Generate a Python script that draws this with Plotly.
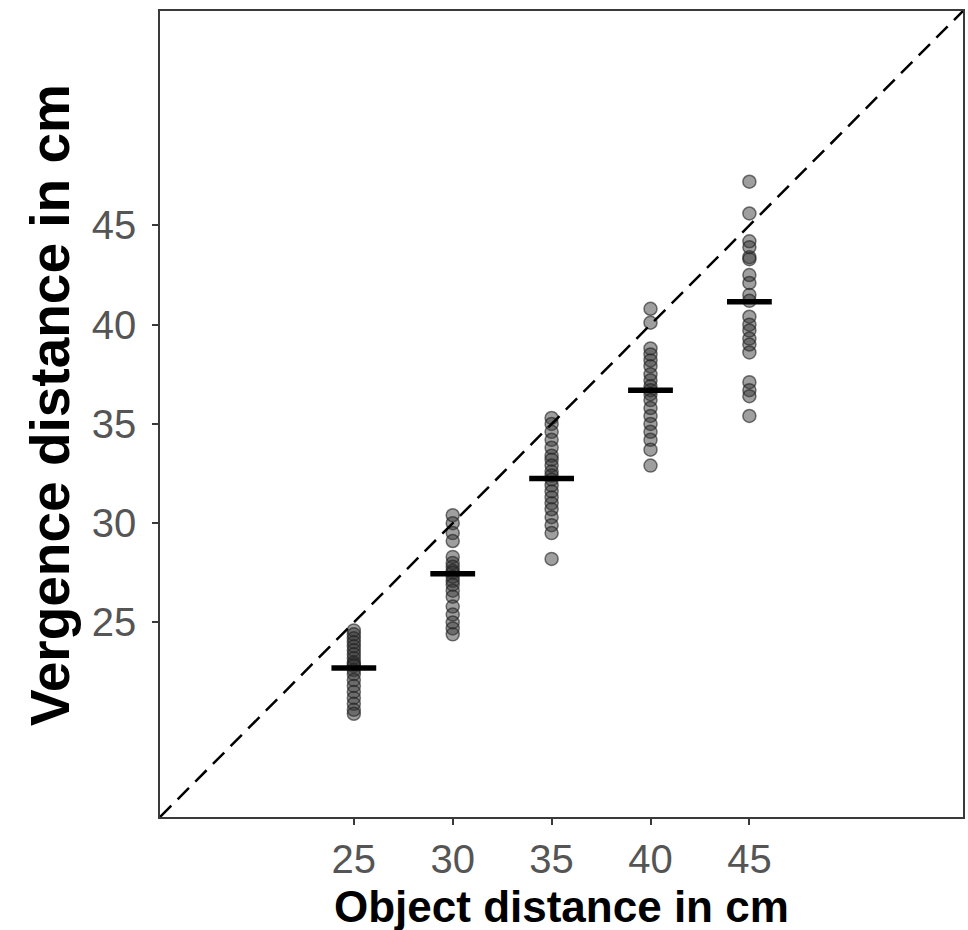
import plotly.graph_objects as go

# Data
object_distances = [25, 30, 35, 40, 45]
vergence_25 = [24.6, 24.4, 24.2, 24.0, 23.8, 23.6, 23.4, 23.2, 23.0, 22.9, 22.8, 22.6, 22.4, 22.1, 21.8, 21.5, 21.2, 20.9, 20.6, 20.4]
vergence_30 = [30.4, 30.0, 29.5, 29.1, 28.3, 28.0, 27.8, 27.6, 27.5, 27.3, 27.1, 26.9, 26.6, 26.3, 25.8, 25.4, 25.0, 24.7, 24.4]
vergence_35 = [35.3, 35.0, 34.6, 34.2, 33.8, 33.4, 33.2, 32.9, 32.6, 32.4, 32.2, 31.9, 31.6, 31.3, 31.0, 30.7, 30.3, 29.9, 29.5, 28.2]
vergence_40 = [40.8, 40.1, 38.8, 38.5, 38.2, 37.9, 37.5, 37.2, 36.9, 36.7, 36.5, 36.2, 35.8, 35.4, 35.0, 34.6, 34.2, 33.7, 32.9]
vergence_45 = [47.2, 45.6, 44.2, 43.9, 43.4, 43.3, 42.5, 42.1, 41.5, 41.2, 40.4, 40.0, 39.7, 39.3, 39.0, 38.6, 37.1, 36.7, 36.4, 35.4]
mean_vergence = [22.7, 27.45, 32.25, 36.7, 41.15]
tick_values = [25, 30, 35, 40, 45]
axis_range = [15.2, 55.8]
x_title = "Object distance in cm"
y_title = "Vergence distance in cm"

groups = [vergence_25, vergence_30, vergence_35, vergence_40, vergence_45]

xs, ys = [], []
for d, vals in zip(object_distances, groups):
    xs += [d] * len(vals)
    ys += vals

FONT = "Liberation Sans, Arial, sans-serif"

fig = go.Figure()
fig.add_trace(go.Scatter(
    x=xs, y=ys, mode="markers",
    marker=dict(size=13, color="rgba(50,50,50,0.47)",
                line=dict(color="rgba(30,30,30,0.6)", width=1.5)),
    showlegend=False, hoverinfo="skip"))
fig.add_trace(go.Scatter(
    x=axis_range, y=axis_range, mode="lines",
    line=dict(color="black", width=2.5, dash="16px,9px"),
    showlegend=False, hoverinfo="skip"))
fig.add_trace(go.Scatter(
    x=object_distances, y=mean_vergence, mode="markers",
    marker=dict(symbol="line-ew", size=32, line=dict(color="black", width=5.5)),
    showlegend=False, hoverinfo="skip"))

axis_common = dict(
    range=axis_range, tickvals=tick_values, showgrid=False, zeroline=False,
    showline=True, mirror=True, linecolor="#3a3a3a", linewidth=1.5,
    ticks="outside", ticklen=6, tickwidth=1.5, tickcolor="#3a3a3a",
    tickfont=dict(family=FONT, size=40, color="#555555"),
)

fig.update_layout(
    width=968, height=930,
    margin=dict(l=160, r=3, t=11, b=113),
    plot_bgcolor="white", paper_bgcolor="white",
    xaxis=dict(**axis_common),
    yaxis=dict(**axis_common, ticklabelstandoff=8),
    annotations=[
        dict(text="<b>" + x_title + "</b>", xref="paper", yref="paper",
             x=0.5, y=0, xanchor="center", yanchor="middle", yshift=-89,
             showarrow=False, font=dict(family=FONT, size=44, color="black")),
        dict(text="<b>" + y_title + "</b>", xref="paper", yref="paper",
             x=0, y=0.5, xanchor="center", yanchor="middle", xshift=-110, yshift=9,
             textangle=-90, showarrow=False,
             font=dict(family=FONT, size=55, color="black")),
    ],
)

fig.write_html("out.html",
               config={"displayModeBar": False},
               post_script="document.body.style.margin='0';document.body.style.overflow='hidden';")
